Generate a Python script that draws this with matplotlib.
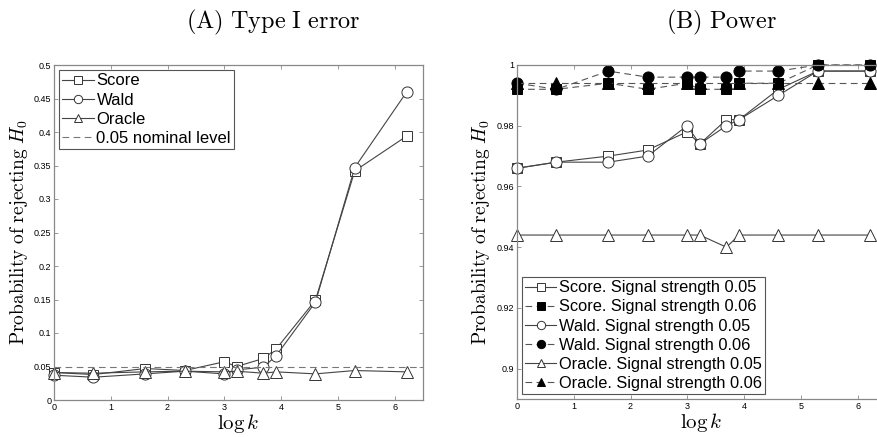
import matplotlib
matplotlib.use('Agg')
import matplotlib.pyplot as plt
import numpy as np

plt.rcParams['mathtext.fontset'] = 'cm'
plt.rcParams['font.family'] = ['Liberation Sans', 'DejaVu Sans']

# sample sizes, plotted on log scale
k_values = [1, 2, 5, 10, 20, 25, 40, 50, 100, 200, 500]

# (A) type I error
score_t1 = [0.041, 0.038, 0.047, 0.044, 0.057, 0.050, 0.062, 0.076, 0.149, 0.342, 0.394]
wald_t1 = [0.037, 0.034, 0.039, 0.043, 0.039, 0.045, 0.049, 0.066, 0.146, 0.347, 0.460]
oracle_t1 = [0.041, 0.040, 0.042, 0.043, 0.042, 0.043, 0.040, 0.042, 0.039, 0.044, 0.042]
nominal = 0.05

# (B) power
score_p05 = [0.966, 0.968, 0.970, 0.972, 0.978, 0.974, 0.982, 0.982, 0.992, 0.998, 0.998]
score_p06 = [0.992, 0.992, 0.994, 0.992, 0.994, 0.992, 0.992, 0.994, 0.994, 1.000, 1.000]
wald_p05 = [0.966, 0.968, 0.968, 0.970, 0.980, 0.974, 0.980, 0.982, 0.990, 0.998, 0.998]
wald_p06 = [0.994, 0.992, 0.998, 0.996, 0.996, 0.996, 0.996, 0.998, 0.998, 1.000, 1.000]
oracle_p05 = [0.944, 0.944, 0.944, 0.944, 0.944, 0.944, 0.940, 0.944, 0.944, 0.944, 0.944]
oracle_p06 = [0.994, 0.994, 0.994, 0.994, 0.994, 0.994, 0.994, 0.994, 0.994, 0.994, 0.994]

x = np.log(k_values)

W, H = 878, 437
fig = plt.figure(figsize=(W / 100, H / 100), dpi=100)
ax1 = fig.add_axes([54 / W, 37 / H, 369 / W, 335 / H])
ax2 = fig.add_axes([517 / W, 38 / H, 369 / W, 334 / H])

lc = '#444444'
ec = '#333333'
spine = '#888888'

def style(ax):
    for s in ax.spines.values():
        s.set_color(spine)
        s.set_linewidth(0.9)
    ax.tick_params(direction='in', length=3, width=0.6, color=spine,
                   labelsize=6.5, top=True, right=True, pad=2)
    ax.set_xticks(range(7))
    ax.set_xlim(0, 6.5)
    ax.set_xlabel(r'$\log k$', fontsize=15, labelpad=0)
    ax.set_ylabel(r'$\mathrm{Probability\ of\ rejecting}\ H_0$', fontsize=14, labelpad=3)

# left panel
ax1.plot(x, score_t1, '-s', color=lc, lw=0.8, ms=7, mfc='white', mec=ec, mew=0.7,
         clip_on=False, label='Score')
ax1.plot(x, wald_t1, '-o', color=lc, lw=0.8, ms=8, mfc='white', mec=ec, mew=0.7,
         clip_on=False, label='Wald')
ax1.plot(x, oracle_t1, '-^', color=lc, lw=0.8, ms=8.5, mfc='white', mec=ec, mew=0.7,
         clip_on=False, label='Oracle')
ax1.axhline(nominal, color='#777777', lw=0.8, ls=(0, (6, 4)), label='0.05 nominal level')
ax1.set_ylim(0, 0.5)
ax1.set_yticks(np.arange(0, 0.501, 0.05))
ax1.set_yticklabels(['0', '0.05', '0.1', '0.15', '0.2', '0.25', '0.3', '0.35', '0.4', '0.45', '0.5'])
style(ax1)
leg1 = ax1.legend(loc='upper left', fontsize=12, fancybox=False, framealpha=1,
                  edgecolor='#555555', handlelength=1.9, handletextpad=0.15,
                  labelspacing=0.25, borderpad=0.2, borderaxespad=0.3, markerscale=0.75)
leg1.get_frame().set_linewidth(0.8)

# right panel
sty05 = dict(color=lc, lw=0.8, mfc='white', mec=ec, mew=0.7, clip_on=False)
sty06 = dict(color='#555555', lw=0.8, ls=(0, (6, 4)), mfc='black', mec='black',
             mew=0.7, clip_on=False)
ax2.plot(x, score_p05, marker='s', ms=7, label='Score. Signal strength 0.05', **sty05)
ax2.plot(x, score_p06, marker='s', ms=7, label='Score. Signal strength 0.06', **sty06)
ax2.plot(x, wald_p05, marker='o', ms=8, label='Wald. Signal strength 0.05', **sty05)
ax2.plot(x, wald_p06, marker='o', ms=8, label='Wald. Signal strength 0.06', **sty06)
ax2.plot(x, oracle_p05, marker='^', ms=8.5, label='Oracle. Signal strength 0.05', **sty05)
ax2.plot(x, oracle_p06, marker='^', ms=8.5, label='Oracle. Signal strength 0.06', **sty06)
ax2.set_ylim(0.89, 1.0)
ax2.set_yticks([0.9, 0.92, 0.94, 0.96, 0.98, 1.0])
ax2.set_yticklabels(['0.9', '0.92', '0.94', '0.96', '0.98', '1'])
style(ax2)
leg2 = ax2.legend(loc='lower left', fontsize=11.8, fancybox=False, framealpha=1,
                  edgecolor='#555555', handlelength=1.9, handletextpad=0.15,
                  labelspacing=0.25, borderpad=0.2, borderaxespad=0.3, markerscale=0.75)
leg2.get_frame().set_linewidth(0.8)

fig.text(273 / W, 1 - 22 / H, r'$\mathrm{(A)\ Type\ I\ error}$', fontsize=17.5,
         ha='center', va='center')
fig.text(721 / W, 1 - 22 / H, r'$\mathrm{(B)\ Power}$', fontsize=17.5,
         ha='center', va='center')

fig.savefig('out.png', dpi=100)
